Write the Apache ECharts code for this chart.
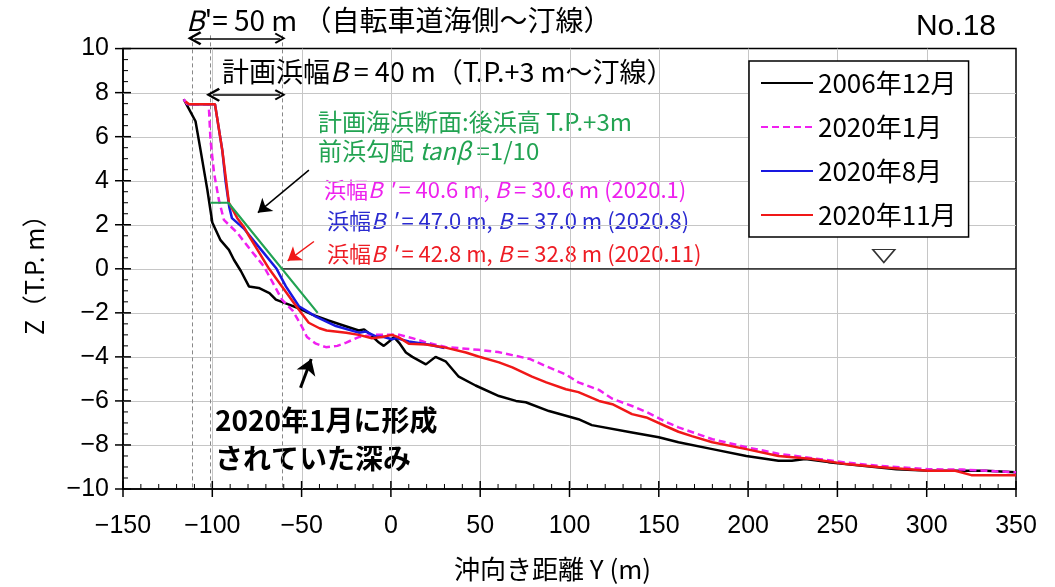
<!DOCTYPE html>
<html>
<head>
<meta charset="utf-8">
<title>No.18 断面変化</title>
<script src="https://cdn.jsdelivr.net/npm/echarts@6.0.0/dist/echarts.min.js"></script>
<style>
  html, body { margin: 0; padding: 0; background: #fff; }
  #chart { width: 1055px; height: 587px; }
</style>
</head>
<body>
<div id="chart"></div>
<script>
// 断面データ [沖向き距離Y (m), Z (T.P. m)]
const profile200612 = [
  [-116, 7.7], [-114, 7.4], [-109.4, 6.7], [-106.6, 5.4], [-104.5, 4.4], [-102.8, 3.6], [-100, 2.1],
  [-95.4, 1.3], [-90.7, 0.86], [-87.9, 0.41], [-84, -0.1], [-79.5, -0.8], [-74, -0.87], [-68, -1.1],
  [-64.4, -1.4], [-57, -1.63], [-50, -1.85], [-44, -2.08], [-35, -2.35], [-27.4, -2.55], [-18, -2.8],
  [-15, -2.75], [-12, -2.95], [-6.7, -3.35], [-4, -3.5], [-1, -3.3], [1.7, -3.1], [5, -3.4], [8.4, -3.8],
  [12, -4.0], [19.6, -4.34], [25, -4.0], [30.6, -4.2], [38, -4.9], [47.4, -5.3], [60.5, -5.78], [70, -6.0],
  [75.5, -6.06], [88.5, -6.46], [105, -6.83], [112.5, -7.1], [135, -7.43], [150, -7.65], [161, -7.88],
  [180, -8.19], [199, -8.5], [217, -8.72], [224.5, -8.72], [232, -8.64], [245, -8.78], [264, -8.95],
  [283, -9.1], [302, -9.17], [320, -9.17], [333, -9.17], [350, -9.24],
]
const profile202001 = [
  [-116, 7.7], [-114, 7.47], [-102, 7.47], [-101.9, 7.3], [-101, 5.84], [-99, 4.34], [-96.3, 3.12],
  [-93.5, 2.22], [-86, 1.63], [-78.6, 0.86], [-72, 0.2], [-70.4, 0], [-66, -0.65], [-61, -1.4],
  [-55, -1.9], [-50, -2.6], [-47, -3.1], [-42, -3.4], [-36.4, -3.56], [-30, -3.5], [-25, -3.35],
  [-18, -3.1], [-10.6, -3.0], [-1, -3.0], [5, -3.0], [12, -3.15], [20, -3.35], [30.6, -3.55], [49, -3.68],
  [60, -3.78], [68, -3.92], [78, -4.1], [87, -4.43], [98, -4.8], [105, -5.16], [116.5, -5.5], [124, -5.9],
  [135, -6.23], [143, -6.5], [154, -6.95], [161, -7.2], [180, -7.74], [199, -8.1], [217, -8.4],
  [236, -8.6], [255, -8.8], [273, -8.95], [301, -9.1], [320, -9.12], [350, -9.24],
]
const profile202008 = [
  [-114, 7.47], [-98.5, 7.47], [-94.4, 5.38], [-92.6, 4.0], [-90.5, 2.8], [-89, 2.3], [-82, 1.8],
  [-79.5, 1.55], [-71, 0.7], [-64, 0], [-58.8, -0.8], [-51.5, -1.7], [-42, -2.17], [-30.8, -2.6],
  [-18, -2.9], [-14, -2.85], [-8.4, -3.07], [-4, -3.1], [0.6, -3.2], [3, -3.15], [10, -3.3], [21, -3.44],
  [30, -3.6],
]
const profile202011 = [
  [-115, 7.6], [-113, 7.47], [-98.5, 7.47], [-94.4, 5.38], [-90.7, 3.0], [-86, 2.3], [-82.3, 1.9],
  [-79.5, 1.5], [-68.2, 0], [-61, -0.8], [-53, -1.7], [-46, -2.45], [-40, -2.7], [-36, -2.8], [-25, -2.9],
  [-18, -3.0], [-10.6, -3.15], [-5, -3.1], [0.6, -3.0], [4.5, -3.12], [10, -3.4], [19.6, -3.44],
  [30.6, -3.58], [42, -3.8], [49, -3.98], [60.5, -4.25], [68, -4.48], [79, -4.9], [87, -5.16], [98, -5.47],
  [105, -5.6], [116.5, -6.0], [124, -6.15], [135, -6.6], [143, -6.75], [154, -7.15], [161, -7.4],
  [168.5, -7.6], [180, -7.88], [199, -8.19], [217, -8.5], [236, -8.64], [255, -8.87], [273, -9.0],
  [301, -9.17], [316, -9.17], [325, -9.37], [350, -9.37],
]
// 計画海浜断面 (後浜高 T.P.+3m, 前浜勾配 1/10)
const planProfile = [[-101, 3], [-91, 3], [-41, -2]]
// 汀線 Z=0
const shoreLine = [[-61, 0], [350, 0]]
// 自転車道海側 / T.P.+3m / 計画汀線
const guideY = [-111, -101, -61]
const seriesNames = ['2006年12月', '2020年1月', '2020年8月', '2020年11月']
// 目盛
const xMajor = [-150, -100, -50, 0, 50, 100, 150, 200, 250, 300, 350]
const zMajor = [-10, -8, -6, -4, -2, 0, 2, 4, 6, 8, 10]
const xMinorStep = 10
const zMinorStep = 0.5

const fontJP = '"Noto Sans CJK JP", sans-serif'
const fontNum = '"Liberation Sans", Arial, sans-serif'
const fontNarrow = '"Liberation Sans Narrow", "Liberation Sans", sans-serif'
const minus = v => String(v).replace('-', '−')

// 上向きの開いた矢じり
const chevron = 'path://M5,0 L10,8 L8.6,9 L5,3 L1.4,9 L0,8 Z'

const chart = echarts.init(document.getElementById('chart'))

const xRange = { min: xMajor[0], max: xMajor[xMajor.length - 1], interval: xMajor[1] - xMajor[0] }
const zRange = { min: zMajor[0], max: zMajor[zMajor.length - 1], interval: zMajor[1] - zMajor[0] }

// 格子線と目盛線（主目盛は軸をまたぎ、副目盛は内向き）
function renderFrame(params, api) {
  const children = []
  const seg = (x1, y1, x2, y2, stroke, lineWidth) => children.push({
    type: 'polyline',
    shape: { points: [[x1, y1], [x2, y2]] },
    style: { stroke, lineWidth, fill: null },
  })
  const left = api.coord([xRange.min, zRange.min])[0]
  const bottom = api.coord([xRange.min, zRange.min])[1]
  const right = api.coord([xRange.max, zRange.min])[0]
  const top = api.coord([xRange.min, zRange.max])[1]

  xMajor.slice(1, -1).forEach(v => {
    const px = Math.round(api.coord([v, 0])[0]) + 0.5
    seg(px, top, px, bottom, '#c6c6c6', 1)
  })
  zMajor.slice(1, -1).forEach(v => {
    const py = Math.round(api.coord([0, v])[1]) + 0.5
    seg(left, py, right, py, '#c6c6c6', 1)
  })
  for (let i = 0; i < xMajor.length - 1; i++) {
    for (let v = xMajor[i] + xMinorStep; v < xMajor[i + 1] - 1e-6; v += xMinorStep) {
      const px = api.coord([v, 0])[0]
      seg(px, bottom, px, bottom - 5, '#000', 1)
    }
  }
  for (let i = 0; i < zMajor.length - 1; i++) {
    for (let v = zMajor[i] + zMinorStep; v < zMajor[i + 1] - 1e-6; v += zMinorStep) {
      const py = api.coord([0, v])[1]
      seg(left, py, left + 5, py, '#000', 1)
    }
  }
  xMajor.forEach(v => {
    const px = api.coord([v, 0])[0]
    seg(px, bottom - 8, px, bottom + 8, '#000', 1.5)
  })
  zMajor.forEach(v => {
    const py = api.coord([0, v])[1]
    seg(left - 8, py, left + 8, py, '#000', 1.5)
  })
  return { type: 'group', children }
}

const profileSeries = (name, data, color, dashed) => ({
  name,
  type: 'line',
  data,
  symbol: 'none',
  lineStyle: { color, width: 2.5, type: dashed ? [7, 4] : 'solid' },
  itemStyle: { color },
  z: 5,
})

// 注記テキスト（B, tanβ は斜体）
const note = (x, y, text, size, color) => ({
  type: 'text', x, y,
  style: {
    text,
    fontFamily: fontJP, fontSize: size, fill: color, verticalAlign: 'middle',
    rich: { i: { fontStyle: 'italic', fontFamily: fontJP, fontSize: size, color } },
  },
})

const option = {
  animation: false,
  grid: {
    left: 123, right: 39, top: 48.6, bottom: 96,
    show: true, borderColor: '#000', borderWidth: 1.5,
  },
  xAxis: {
    type: 'value',
    position: 'bottom',
    ...xRange,
    name: '沖向き距離 Y (m)',
    nameLocation: 'middle',
    nameGap: 67,
    nameTextStyle: { fontFamily: fontJP, fontSize: 26, color: '#000', padding: [0, 34, 0, 0] },
    axisLine: { show: true, onZero: false, lineStyle: { color: '#000', width: 1.5 } },
    axisTick: { show: false },
    axisLabel: { show: true, margin: 25, fontFamily: fontNarrow, fontSize: 25, color: '#000', formatter: minus },
    splitLine: { show: false },
  },
  yAxis: {
    type: 'value',
    position: 'left',
    ...zRange,
    name: 'Z（T.P. m）',
    nameLocation: 'middle',
    nameGap: 76,
    nameTextStyle: { fontFamily: fontJP, fontSize: 25, color: '#000' },
    axisLine: { show: true, onZero: false, lineStyle: { color: '#000', width: 1.5 } },
    axisTick: { show: false },
    axisLabel: { show: true, margin: 14, fontFamily: fontNum, fontSize: 25, color: '#000', formatter: minus },
    splitLine: { show: false },
  },
  legend: {
    data: seriesNames,
    orient: 'vertical',
    left: 749,
    top: 61,
    padding: [9, 12, 9, 11],
    itemWidth: 52,
    itemHeight: 14,
    itemGap: 18,
    itemStyle: { opacity: 0 },
    backgroundColor: '#fff',
    borderColor: '#000',
    borderWidth: 1.5,
    textStyle: { fontFamily: fontJP, fontSize: 26, lineHeight: 26, color: '#000' },
  },
  series: [
    {
      name: 'frame',
      type: 'custom',
      coordinateSystem: 'cartesian2d',
      renderItem: renderFrame,
      data: [[0, 0]],
      silent: true,
      clip: false,
      z: 1,
    },
    {
      name: 'guide',
      type: 'lines',
      coordinateSystem: 'cartesian2d',
      clip: false,
      symbol: 'none',
      lineStyle: { color: '#888', width: 1, type: [4, 3], opacity: 1 },
      data: guideY.map(y => ({ coords: [[y, 10.6], [y, zRange.min]] })),
      z: 2,
    },
    {
      name: 'zero',
      type: 'line',
      data: shoreLine,
      symbol: 'none',
      lineStyle: { color: '#000', width: 1.2 },
      z: 3,
    },
    profileSeries('2006年12月', profile200612, '#000000', false),
    profileSeries('2020年1月', profile202001, '#f020f0', true),
    profileSeries('2020年8月', profile202008, '#1818e0', false),
    profileSeries('2020年11月', profile202011, '#f01818', false),
    {
      name: 'plan',
      type: 'line',
      data: planProfile,
      symbol: 'none',
      lineStyle: { color: '#22a352', width: 2.2 },
      z: 6,
    },
    {
      // 寸法線 B', B
      name: 'dim',
      type: 'lines',
      coordinateSystem: 'cartesian2d',
      clip: false,
      symbol: [chevron, chevron],
      symbolSize: [14, 11],
      lineStyle: { color: '#000', width: 1.5, opacity: 1 },
      data: [
        { coords: [[-110, 10.47], [-62, 10.47]] },
        { coords: [[-99.6, 7.9], [-62, 7.9]] },
      ],
      z: 7,
    },
    {
      // 引き出し矢印
      name: 'pointer',
      type: 'lines',
      coordinateSystem: 'cartesian2d',
      clip: false,
      symbol: ['none', 'arrow'],
      symbolSize: [9, 13],
      lineStyle: { width: 1.5, opacity: 1 },
      data: [
        { coords: [[-45.9, 4.48], [-74.5, 2.55]], lineStyle: { color: '#000' } },
        { coords: [[-43.1, 1.24], [-57.8, 0.36]], lineStyle: { color: '#f01818' } },
      ],
      z: 7,
    },
    {
      name: 'pit',
      type: 'lines',
      coordinateSystem: 'cartesian2d',
      clip: false,
      symbol: ['none', 'arrow'],
      symbolSize: [11, 15],
      lineStyle: { width: 3, color: '#000', opacity: 1 },
      data: [{ coords: [[-50.6, -5.4], [-44.6, -4.1]] }],
      z: 7,
    },
    {
      // 水位記号 ▽
      name: 'wl',
      type: 'scatter',
      data: [[276, 0.58]],
      symbol: 'triangle',
      symbolRotate: 180,
      symbolSize: [22, 13],
      itemStyle: { color: '#fff', borderColor: '#000', borderWidth: 1.5 },
      z: 7,
    },
  ],
  graphic: [
    note(186, 20, "{i|B}'= 50 m （自転車道海側～汀線）", 28, '#000'),
    note(222, 72, '計画浜幅{i|B} = 40 m（T.P.+3 m～汀線）', 27, '#000'),
    {
      type: 'text', x: 996, y: 27,
      style: { text: 'No.18', fontFamily: fontNum, fontSize: 30, fill: '#000', align: 'right', verticalAlign: 'middle' },
    },
    note(318, 122, '計画海浜断面:後浜高 T.P.+3m', 24, '#22a352'),
    note(318, 151, '前浜勾配 {i|tanβ} =1/10', 24, '#22a352'),
    note(324, 190, "浜幅{i|B '} = 40.6 m, {i|B} = 30.6 m (2020.1)", 22, '#ee22ee'),
    note(327, 221, "浜幅{i|B '} = 47.0 m, {i|B} = 37.0 m (2020.8)", 22, '#2a2ad0'),
    note(327, 254, "浜幅{i|B '} = 42.8 m, {i|B} = 32.8 m (2020.11)", 22, '#ee1c24'),
    {
      type: 'text', x: 215, y: 420,
      style: { text: '2020年1月に形成', fontFamily: fontJP, fontSize: 28, fontWeight: 'bold', fill: '#000', verticalAlign: 'middle' },
    },
    {
      type: 'text', x: 215, y: 458,
      style: { text: 'されていた深み', fontFamily: fontJP, fontSize: 28, fontWeight: 'bold', fill: '#000', verticalAlign: 'middle' },
    },
  ],
}

chart.setOption(option)
</script>
</body>
</html>
